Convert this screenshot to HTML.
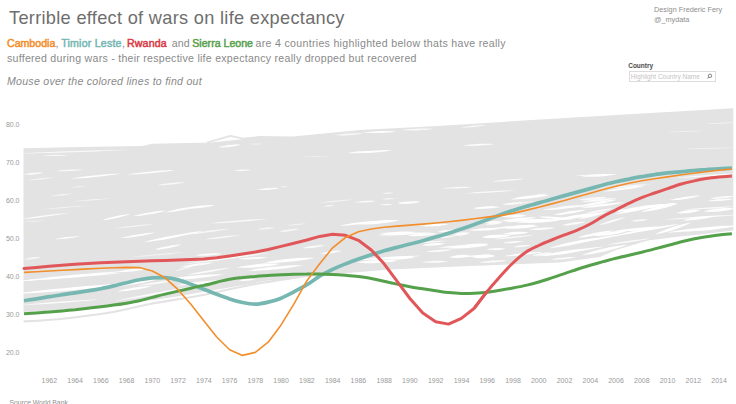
<!DOCTYPE html>
<html><head><meta charset="utf-8">
<style>
html,body{margin:0;padding:0;background:#fff;width:736px;height:404px;overflow:hidden;}
svg{position:absolute;left:0;top:0;}
text{font-family:"Liberation Sans",sans-serif;}
.ax{font-size:7px;fill:#9a9a9a;}
.g{fill:#8a8a8a;}
.nm{stroke-width:0.5px;}
</style></head><body>
<svg width="736" height="404" viewBox="0 0 736 404">
<path d="M23.5,148.2 L80.0,147.0 L142.3,145.9 L152.0,143.8 L200.0,142.7 L211.0,142.4 L242.0,139.3 L260.0,136.1 L292.7,136.4 L360.0,130.0 L433.4,126.3 L482.3,123.2 L540.0,119.5 L642.0,113.4 L733.3,108.2 L733.3,230.5 L700.0,234.5 L680.0,236.5 L648.0,240.5 L616.0,250.0 L600.0,257.0 L560.0,262.5 L470.0,266.0 L390.0,269.5 L330.0,274.5 L290.0,279.0 L250.0,284.0 L200.0,292.5 L180.0,296.0 L150.0,300.5 L100.0,306.0 L60.0,310.0 L23.5,312.0 Z" fill="#e3e3e3"/>
<path d="M17.1,153.5 C45.5,153.3 102.2,151.5 130.5,149.7 C102.1,149.9 45.4,151.7 17.1,153.5Z" fill="#fff" fill-opacity="0.76"/>
<path d="M42.7,155.7 C49.1,156.4 61.9,156.1 68.3,155.2 C61.9,154.5 49.1,154.8 42.7,155.7Z" fill="#fff" fill-opacity="0.66"/>
<path d="M23.5,174.6 C28.6,175.1 38.5,174.2 43.4,172.7 C38.3,172.2 28.4,173.1 23.5,174.6Z" fill="#fff" fill-opacity="0.85"/>
<path d="M57.1,170.9 C64.0,171.6 77.5,171.1 84.3,169.8 C77.4,169.1 63.9,169.6 57.1,170.9Z" fill="#fff" fill-opacity="0.76"/>
<path d="M70.3,178.8 C83.2,178.7 108.7,176.1 121.3,173.6 C108.4,173.7 82.9,176.3 70.3,178.8Z" fill="#fff" fill-opacity="0.90"/>
<path d="M126.7,174.8 C138.9,174.8 163.0,172.5 174.9,170.1 C162.7,170.1 138.6,172.4 126.7,174.8Z" fill="#fff" fill-opacity="0.90"/>
<path d="M28.0,180.2 C34.5,180.3 47.3,179.0 53.6,177.5 C47.1,177.4 34.3,178.7 28.0,180.2Z" fill="#fff" fill-opacity="0.66"/>
<path d="M157.5,185.2 C164.4,185.5 177.8,184.1 184.5,182.4 C177.6,182.1 164.2,183.5 157.5,185.2Z" fill="#fff" fill-opacity="0.76"/>
<path d="M50.2,196.2 C56.0,196.3 67.4,194.9 73.0,193.4 C67.2,193.3 55.8,194.7 50.2,196.2Z" fill="#fff" fill-opacity="0.66"/>
<path d="M70.2,187.6 C74.5,187.8 83.0,186.8 87.2,185.7 C82.9,185.5 74.4,186.5 70.2,187.6Z" fill="#fff" fill-opacity="0.57"/>
<path d="M20.3,219.4 C32.8,218.7 57.6,215.4 69.9,212.7 C57.4,213.4 32.6,216.7 20.3,219.4Z" fill="#fff" fill-opacity="0.85"/>
<path d="M41.2,209.4 C53.3,209.1 77.3,207.2 89.3,205.6 C77.2,205.9 53.2,207.8 41.2,209.4Z" fill="#fff" fill-opacity="0.57"/>
<path d="M73.4,201.2 C82.8,201.2 101.3,199.8 110.6,198.4 C101.2,198.4 82.7,199.8 73.4,201.2Z" fill="#fff" fill-opacity="0.57"/>
<path d="M102.4,220.2 C109.8,220.0 124.0,216.9 130.8,214.1 C123.4,214.3 109.2,217.4 102.4,220.2Z" fill="#fff" fill-opacity="0.95"/>
<path d="M132.7,216.1 C141.4,216.0 158.4,213.1 166.6,210.4 C157.9,210.5 140.9,213.4 132.7,216.1Z" fill="#fff" fill-opacity="0.95"/>
<path d="M164.0,212.5 C173.9,212.0 193.2,208.5 202.7,205.4 C192.8,205.9 173.5,209.4 164.0,212.5Z" fill="#fff" fill-opacity="0.95"/>
<path d="M54.9,239.1 C61.4,239.4 74.2,238.0 80.5,236.3 C74.0,236.0 61.2,237.4 54.9,239.1Z" fill="#fff" fill-opacity="0.76"/>
<path d="M120.3,238.1 C129.3,238.0 147.1,235.1 155.7,232.4 C146.7,232.5 128.9,235.4 120.3,238.1Z" fill="#fff" fill-opacity="0.95"/>
<path d="M143.0,242.2 C158.5,240.7 189.2,235.0 204.2,230.8 C188.7,232.3 158.0,238.0 143.0,242.2Z" fill="#fff" fill-opacity="0.95"/>
<path d="M155.2,249.0 C161.8,248.9 174.5,246.8 180.8,244.7 C174.2,244.8 161.5,246.9 155.2,249.0Z" fill="#fff" fill-opacity="0.76"/>
<path d="M24.9,258.6 C28.9,259.0 36.8,258.3 40.7,257.2 C36.7,256.8 28.8,257.5 24.9,258.6Z" fill="#fff" fill-opacity="0.66"/>
<path d="M115.1,228.2 C125.1,227.9 144.9,225.8 154.7,223.9 C144.7,224.2 124.9,226.3 115.1,228.2Z" fill="#fff" fill-opacity="0.66"/>
<path d="M23.3,221.9 C29.1,222.2 40.4,221.5 46.1,220.5 C40.3,220.2 29.0,220.9 23.3,221.9Z" fill="#fff" fill-opacity="0.57"/>
<path d="M174.6,271.3 C181.7,270.1 195.4,265.9 201.9,262.8 C194.8,264.0 181.1,268.2 174.6,271.3Z" fill="#fff" fill-opacity="0.76"/>
<path d="M219.1,147.1 C224.6,147.4 235.2,146.0 240.4,144.3 C234.9,144.0 224.3,145.4 219.1,147.1Z" fill="#fff" fill-opacity="0.76"/>
<path d="M334.7,135.3 C341.9,135.8 356.1,134.9 363.2,133.4 C356.0,132.9 341.8,133.8 334.7,135.3Z" fill="#fff" fill-opacity="0.76"/>
<path d="M347.3,153.1 C353.5,153.8 365.7,152.9 371.7,151.2 C365.5,150.5 353.3,151.4 347.3,153.1Z" fill="#fff" fill-opacity="0.90"/>
<path d="M300.3,156.7 C308.2,157.3 323.8,157.0 331.6,156.2 C323.7,155.6 308.1,155.9 300.3,156.7Z" fill="#fff" fill-opacity="0.38"/>
<path d="M382.8,193.4 C385.5,194.1 390.8,193.9 393.4,193.0 C390.7,192.3 385.4,192.5 382.8,193.4Z" fill="#fff" fill-opacity="0.76"/>
<path d="M381.6,199.1 C384.9,199.8 391.4,199.4 394.6,198.5 C391.3,197.8 384.8,198.2 381.6,199.1Z" fill="#fff" fill-opacity="0.76"/>
<path d="M379.5,204.8 C382.8,205.6 389.3,205.4 392.5,204.4 C389.2,203.6 382.7,203.8 379.5,204.8Z" fill="#fff" fill-opacity="0.76"/>
<path d="M323.7,206.2 C326.4,206.9 331.7,206.5 334.3,205.6 C331.6,204.9 326.3,205.3 323.7,206.2Z" fill="#fff" fill-opacity="0.76"/>
<path d="M354.5,202.3 C359.9,203.0 370.5,202.3 375.8,201.0 C370.4,200.3 359.8,201.0 354.5,202.3Z" fill="#fff" fill-opacity="0.85"/>
<path d="M280.0,186.9 C282.1,187.5 286.2,187.2 288.3,186.5 C286.2,185.9 282.1,186.2 280.0,186.9Z" fill="#fff" fill-opacity="0.57"/>
<path d="M249.0,144.0 C252.5,144.7 259.5,144.7 263.0,144.0 C259.5,143.3 252.5,143.3 249.0,144.0Z" fill="#fff" fill-opacity="0.57"/>
<path d="M234.0,170.6 C238.3,171.5 246.9,171.2 251.2,170.1 C246.9,169.2 238.3,169.5 234.0,170.6Z" fill="#fff" fill-opacity="0.76"/>
<path d="M256.9,189.8 C262.7,190.5 274.0,189.6 279.6,187.9 C273.8,187.2 262.5,188.1 256.9,189.8Z" fill="#fff" fill-opacity="0.85"/>
<path d="M188.1,208.5 C195.0,209.0 208.5,207.2 215.1,205.0 C208.2,204.5 194.7,206.3 188.1,208.5Z" fill="#fff" fill-opacity="0.95"/>
<path d="M210.6,223.3 C224.8,223.2 253.2,221.1 267.3,219.0 C253.1,219.1 224.7,221.2 210.6,223.3Z" fill="#fff" fill-opacity="0.76"/>
<path d="M187.1,234.4 C197.8,234.0 219.1,231.1 229.6,228.7 C218.9,229.1 197.6,232.0 187.1,234.4Z" fill="#fff" fill-opacity="0.76"/>
<path d="M204.6,239.2 C213.9,239.1 232.3,237.0 241.4,234.9 C232.1,235.0 213.7,237.1 204.6,239.2Z" fill="#fff" fill-opacity="0.76"/>
<path d="M257.3,229.2 C261.7,229.8 270.2,229.1 274.4,227.8 C270.0,227.2 261.5,227.9 257.3,229.2Z" fill="#fff" fill-opacity="0.76"/>
<path d="M279.1,231.8 C284.2,232.1 294.2,230.6 299.0,228.9 C293.9,228.6 283.9,230.1 279.1,231.8Z" fill="#fff" fill-opacity="0.76"/>
<path d="M286.4,225.6 C291.5,225.9 301.5,224.9 306.4,223.6 C301.3,223.3 291.3,224.3 286.4,225.6Z" fill="#fff" fill-opacity="0.57"/>
<path d="M319.6,202.9 C328.3,202.9 345.3,201.2 353.8,199.6 C345.1,199.6 328.1,201.3 319.6,202.9Z" fill="#fff" fill-opacity="0.57"/>
<path d="M339.3,225.8 C347.7,226.0 364.2,223.9 372.3,221.5 C363.9,221.3 347.4,223.4 339.3,225.8Z" fill="#fff" fill-opacity="0.95"/>
<path d="M184.1,264.2 C205.6,262.5 248.1,256.8 269.3,252.8 C247.8,254.5 205.3,260.2 184.1,264.2Z" fill="#fff" fill-opacity="0.85"/>
<path d="M259.9,263.8 C272.8,263.6 298.3,260.7 310.9,258.1 C298.0,258.3 272.5,261.2 259.9,263.8Z" fill="#fff" fill-opacity="0.85"/>
<path d="M187.1,274.9 C197.9,274.3 219.2,270.8 229.6,267.8 C218.8,268.4 197.5,271.9 187.1,274.9Z" fill="#fff" fill-opacity="0.85"/>
<path d="M362.6,132.6 C371.1,133.5 388.1,132.9 396.5,131.4 C388.0,130.5 371.0,131.1 362.6,132.6Z" fill="#fff" fill-opacity="0.90"/>
<path d="M401.8,130.1 C409.7,130.8 425.4,130.2 433.2,128.9 C425.3,128.2 409.6,128.8 401.8,130.1Z" fill="#fff" fill-opacity="0.76"/>
<path d="M460.9,127.8 C467.4,128.1 480.2,126.7 486.5,125.0 C480.0,124.7 467.2,126.1 460.9,127.8Z" fill="#fff" fill-opacity="0.76"/>
<path d="M357.7,153.0 C366.3,153.5 383.2,152.1 391.6,150.2 C383.0,149.7 366.1,151.1 357.7,153.0Z" fill="#fff" fill-opacity="0.90"/>
<path d="M463.1,145.6 C470.9,146.4 486.4,145.7 494.1,144.1 C486.3,143.3 470.8,144.0 463.1,145.6Z" fill="#fff" fill-opacity="0.90"/>
<path d="M492.3,181.6 C500.5,181.9 516.8,180.5 524.8,178.8 C516.6,178.5 500.3,179.9 492.3,181.6Z" fill="#fff" fill-opacity="0.76"/>
<path d="M441.1,188.4 C448.9,189.0 464.4,188.3 472.1,186.9 C464.3,186.3 448.8,187.0 441.1,188.4Z" fill="#fff" fill-opacity="0.76"/>
<path d="M464.1,193.4 C476.9,193.7 502.4,192.2 515.1,190.5 C502.3,190.2 476.8,191.7 464.1,193.4Z" fill="#fff" fill-opacity="0.76"/>
<path d="M514.6,198.2 C521.6,198.7 535.2,197.3 541.9,195.4 C534.9,194.9 521.3,196.3 514.6,198.2Z" fill="#fff" fill-opacity="0.90"/>
<path d="M357.1,223.2 C367.8,223.8 389.1,222.4 399.6,220.4 C388.9,219.8 367.6,221.2 357.1,223.2Z" fill="#fff" fill-opacity="0.95"/>
<path d="M397.4,202.8 C403.2,203.5 414.6,202.9 420.3,201.6 C414.5,200.9 403.1,201.5 397.4,202.8Z" fill="#fff" fill-opacity="0.76"/>
<path d="M473.0,208.4 C480.2,209.0 494.3,208.4 501.4,207.0 C494.2,206.4 480.1,207.0 473.0,208.4Z" fill="#fff" fill-opacity="0.76"/>
<path d="M504.0,222.0 C513.8,222.6 533.1,221.2 542.7,219.1 C532.9,218.5 513.6,219.9 504.0,222.0Z" fill="#fff" fill-opacity="0.95"/>
<path d="M409.1,225.6 C417.6,226.2 434.6,225.5 443.0,224.1 C434.5,223.5 417.5,224.2 409.1,225.6Z" fill="#fff" fill-opacity="0.76"/>
<path d="M378.3,235.4 C391.8,236.0 418.8,234.6 432.2,232.6 C418.7,232.0 391.7,233.4 378.3,235.4Z" fill="#fff" fill-opacity="0.95"/>
<path d="M485.2,229.3 C492.4,229.6 506.6,228.2 513.6,226.5 C506.4,226.2 492.2,227.6 485.2,229.3Z" fill="#fff" fill-opacity="0.76"/>
<path d="M437.4,247.7 C449.5,248.3 473.6,246.9 485.6,244.8 C473.5,244.2 449.4,245.6 437.4,247.7Z" fill="#fff" fill-opacity="0.95"/>
<path d="M355.5,260.0 C371.9,260.3 404.5,258.1 420.7,255.7 C404.3,255.4 371.7,257.6 355.5,260.0Z" fill="#fff" fill-opacity="0.95"/>
<path d="M455.3,257.5 C464.6,257.8 483.0,256.3 492.1,254.6 C482.8,254.3 464.4,255.8 455.3,257.5Z" fill="#fff" fill-opacity="0.85"/>
<path d="M494.3,239.2 C504.3,239.1 524.1,237.0 533.9,234.9 C523.9,235.0 504.1,237.1 494.3,239.2Z" fill="#fff" fill-opacity="0.76"/>
<path d="M504.0,256.3 C513.8,256.6 533.2,254.5 542.7,252.1 C532.9,251.8 513.5,253.9 504.0,256.3Z" fill="#fff" fill-opacity="0.95"/>
<path d="M431.8,237.8 C437.6,238.4 448.9,237.8 454.6,236.4 C448.8,235.8 437.5,236.4 431.8,237.8Z" fill="#fff" fill-opacity="0.76"/>
<path d="M707.1,123.9 C714.1,124.2 728.0,123.4 734.9,122.3 C727.9,122.0 714.0,122.8 707.1,123.9Z" fill="#fff" fill-opacity="0.57"/>
<path d="M664.1,132.1 C674.7,132.4 695.9,131.7 706.4,130.7 C695.8,130.4 674.6,131.1 664.1,132.1Z" fill="#fff" fill-opacity="0.57"/>
<path d="M683.0,149.1 C696.4,149.4 723.3,148.6 736.7,147.5 C723.3,147.2 696.4,148.0 683.0,149.1Z" fill="#fff" fill-opacity="0.57"/>
<path d="M574.7,175.7 C585.3,176.3 606.4,175.5 616.9,174.1 C606.3,173.5 585.2,174.3 574.7,175.7Z" fill="#fff" fill-opacity="0.76"/>
<path d="M528.7,196.8 C533.7,197.0 543.4,195.4 548.1,193.6 C543.1,193.4 533.4,195.0 528.7,196.8Z" fill="#fff" fill-opacity="0.76"/>
<path d="M599.2,188.7 C612.3,188.5 638.2,186.1 651.1,183.9 C638.0,184.1 612.1,186.5 599.2,188.7Z" fill="#fff" fill-opacity="0.76"/>
<path d="M555.8,219.5 C564.1,219.6 580.3,217.2 588.2,214.7 C579.9,214.6 563.7,217.0 555.8,219.5Z" fill="#fff" fill-opacity="0.95"/>
<path d="M639.3,208.3 C649.2,208.4 668.6,206.0 678.2,203.5 C668.3,203.4 648.9,205.8 639.3,208.3Z" fill="#fff" fill-opacity="0.95"/>
<path d="M683.0,209.6 C696.5,209.8 723.3,208.2 736.7,206.4 C723.2,206.2 696.4,207.8 683.0,209.6Z" fill="#fff" fill-opacity="0.76"/>
<path d="M527.3,222.2 C537.2,222.7 556.7,221.1 566.3,219.0 C556.4,218.5 536.9,220.1 527.3,222.2Z" fill="#fff" fill-opacity="0.95"/>
<path d="M558.9,245.2 C576.2,243.7 610.3,238.0 627.1,233.8 C609.8,235.3 575.7,241.0 558.9,245.2Z" fill="#fff" fill-opacity="0.95"/>
<path d="M624.2,233.9 C638.2,232.7 665.8,227.9 679.3,224.1 C665.3,225.3 637.7,230.1 624.2,233.9Z" fill="#fff" fill-opacity="0.95"/>
<path d="M665.0,219.5 C683.3,219.3 719.8,216.9 738.0,214.7 C719.7,214.9 683.2,217.3 665.0,219.5Z" fill="#fff" fill-opacity="0.76"/>
<path d="M536.5,256.3 C553.7,255.2 587.8,250.3 604.7,246.5 C587.5,247.6 553.4,252.5 536.5,256.3Z" fill="#fff" fill-opacity="0.95"/>
<path d="M605.3,244.8 C616.8,244.2 639.4,241.0 650.6,238.4 C639.1,239.0 616.5,242.2 605.3,244.8Z" fill="#fff" fill-opacity="0.85"/>
<path d="M695.2,230.7 C705.5,230.8 725.8,228.4 735.8,225.9 C725.5,225.8 705.2,228.2 695.2,230.7Z" fill="#fff" fill-opacity="0.95"/>
<path d="M16.5,281.1 C43.8,280.1 98.2,275.9 125.3,272.7 C98.0,273.7 43.6,277.9 16.5,281.1Z" fill="#fff" fill-opacity="0.90"/>
<path d="M16.9,293.6 C42.8,292.2 94.4,287.2 120.1,283.6 C94.2,285.0 42.6,290.0 16.9,293.6Z" fill="#fff" fill-opacity="0.90"/>
<path d="M18.4,305.4 C38.6,304.9 78.9,302.0 99.0,299.6 C78.8,300.1 38.5,303.0 18.4,305.4Z" fill="#fff" fill-opacity="0.85"/>
<path d="M218.9,147.4 C224.4,147.8 235.3,146.5 240.6,144.9 C235.1,144.5 224.2,145.8 218.9,147.4Z" fill="#fff" fill-opacity="0.76"/>
<path d="M16.9,281.3 C44.7,280.2 100.1,275.0 127.6,271.0 C99.8,272.1 44.4,277.3 16.9,281.3Z" fill="#fff" fill-opacity="0.95"/>
<path d="M16.9,293.9 C44.7,293.1 100.1,288.3 127.6,284.3 C99.8,285.1 44.4,289.9 16.9,293.9Z" fill="#fff" fill-opacity="0.95"/>
<path d="M23.2,260.0 C28.0,260.1 37.5,258.8 42.1,257.3 C37.3,257.2 27.8,258.5 23.2,260.0Z" fill="#fff" fill-opacity="0.57"/>
<path d="M55.5,239.2 C61.3,239.3 72.5,238.0 78.1,236.5 C72.3,236.4 61.1,237.7 55.5,239.2Z" fill="#fff" fill-opacity="0.57"/>
<path d="M118.0,271.9 C125.5,272.7 140.2,270.9 147.3,268.5 C139.8,267.7 125.1,269.5 118.0,271.9Z" fill="#fff" fill-opacity="0.95"/>
<path d="M155.3,249.8 C162.0,249.8 175.0,247.2 181.2,244.5 C174.5,244.5 161.5,247.1 155.3,249.8Z" fill="#fff" fill-opacity="0.85"/>
<path d="M147.3,241.6 C156.2,241.4 173.4,238.4 181.8,235.6 C172.9,235.8 155.7,238.8 147.3,241.6Z" fill="#fff" fill-opacity="0.85"/>
<path d="M131.1,257.2 C145.0,256.7 172.5,254.0 186.2,251.9 C172.3,252.4 144.8,255.1 131.1,257.2Z" fill="#fff" fill-opacity="0.57"/>
<path d="M180.0,266.8 C188.8,267.0 206.0,264.8 214.5,262.4 C205.7,262.2 188.5,264.4 180.0,266.8Z" fill="#fff" fill-opacity="0.85"/>
<path d="M117.0,286.3 C128.1,286.0 149.6,282.1 160.1,278.6 C149.0,278.9 127.5,282.8 117.0,286.3Z" fill="#fff" fill-opacity="0.95"/>
<path d="M160.2,280.2 C176.4,280.7 208.6,277.7 224.4,274.2 C208.2,273.7 176.0,276.7 160.2,280.2Z" fill="#fff" fill-opacity="0.95"/>
<path d="M176.2,285.4 C188.1,285.7 211.6,283.1 223.2,280.2 C211.3,279.9 187.8,282.5 176.2,285.4Z" fill="#fff" fill-opacity="0.95"/>
<path d="M117.6,291.4 C126.5,291.6 143.7,289.0 152.1,286.1 C143.2,285.9 126.0,288.5 117.6,291.4Z" fill="#fff" fill-opacity="0.95"/>
<path d="M195.5,255.4 C202.2,256.3 215.3,255.4 221.8,253.7 C215.1,252.8 202.0,253.7 195.5,255.4Z" fill="#fff" fill-opacity="0.85"/>
<path d="M238.0,259.1 C245.4,260.0 260.1,259.1 267.3,257.4 C259.9,256.5 245.2,257.4 238.0,259.1Z" fill="#fff" fill-opacity="0.85"/>
<path d="M237.0,267.4 C248.0,268.6 269.5,266.8 280.1,264.0 C269.1,262.8 247.6,264.6 237.0,267.4Z" fill="#fff" fill-opacity="0.95"/>
<path d="M248.1,270.6 C262.1,271.2 289.6,268.6 303.2,265.3 C289.2,264.7 261.7,267.3 248.1,270.6Z" fill="#fff" fill-opacity="0.95"/>
<path d="M266.4,262.3 C278.6,263.2 302.7,261.1 314.6,258.0 C302.4,257.1 278.3,259.2 266.4,262.3Z" fill="#fff" fill-opacity="0.95"/>
<path d="M238.8,280.7 C243.3,281.6 251.9,280.7 256.1,279.0 C251.6,278.1 243.0,279.0 238.8,280.7Z" fill="#fff" fill-opacity="0.95"/>
<path d="M253.1,283.7 C259.8,284.5 272.6,282.8 278.9,280.4 C272.2,279.6 259.4,281.3 253.1,283.7Z" fill="#fff" fill-opacity="0.95"/>
<path d="M302.4,248.1 C308.1,248.8 319.3,247.5 324.7,245.5 C319.0,244.8 307.8,246.1 302.4,248.1Z" fill="#fff" fill-opacity="0.85"/>
<path d="M320.2,254.0 C325.8,254.5 336.4,252.8 341.5,250.7 C335.9,250.2 325.3,251.9 320.2,254.0Z" fill="#fff" fill-opacity="0.85"/>
<path d="M357.2,224.3 C367.7,225.3 388.3,223.2 398.4,220.2 C387.9,219.2 367.3,221.3 357.2,224.3Z" fill="#fff" fill-opacity="0.95"/>
<path d="M378.8,234.0 C388.2,235.3 406.9,234.2 416.1,232.0 C406.7,230.7 388.0,231.8 378.8,234.0Z" fill="#fff" fill-opacity="0.95"/>
<path d="M384.6,258.9 C392.5,260.4 408.0,259.4 415.6,256.9 C407.7,255.4 392.2,256.4 384.6,258.9Z" fill="#fff" fill-opacity="0.95"/>
<path d="M357.2,262.5 C367.6,264.0 388.2,263.0 398.4,260.5 C388.0,259.0 367.4,260.0 357.2,262.5Z" fill="#fff" fill-opacity="0.95"/>
<path d="M408.0,235.7 C415.3,236.8 429.8,235.9 436.9,233.8 C429.6,232.7 415.1,233.6 408.0,235.7Z" fill="#fff" fill-opacity="0.95"/>
<path d="M401.3,243.9 C413.3,244.1 437.1,242.6 448.9,240.8 C436.9,240.6 413.1,242.1 401.3,243.9Z" fill="#fff" fill-opacity="0.76"/>
<path d="M397.6,203.7 C403.4,204.6 414.8,203.7 420.4,202.0 C414.6,201.1 403.2,202.0 397.6,203.7Z" fill="#fff" fill-opacity="0.85"/>
<path d="M425.9,251.8 C432.5,252.7 445.4,251.6 451.8,249.8 C445.2,248.9 432.3,250.0 425.9,251.8Z" fill="#fff" fill-opacity="0.85"/>
<path d="M474.3,207.9 C480.4,208.9 492.5,208.4 498.5,206.8 C492.4,205.8 480.3,206.3 474.3,207.9Z" fill="#fff" fill-opacity="0.85"/>
<path d="M502.0,216.6 C508.2,218.3 520.2,217.8 526.2,215.5 C520.0,213.8 508.0,214.3 502.0,216.6Z" fill="#fff" fill-opacity="0.95"/>
<path d="M522.5,221.8 C530.0,223.3 544.8,222.3 552.0,219.8 C544.5,218.3 529.7,219.3 522.5,221.8Z" fill="#fff" fill-opacity="0.95"/>
<path d="M499.2,227.8 C509.4,229.3 529.5,228.4 539.5,225.9 C529.3,224.4 509.2,225.3 499.2,227.8Z" fill="#fff" fill-opacity="0.95"/>
<path d="M454.1,233.9 C458.2,234.9 466.2,234.4 470.1,232.8 C466.0,231.8 458.0,232.3 454.1,233.9Z" fill="#fff" fill-opacity="0.85"/>
<path d="M482.8,237.4 C489.9,238.9 504.0,237.9 510.8,235.4 C503.7,233.9 489.6,234.9 482.8,237.4Z" fill="#fff" fill-opacity="0.95"/>
<path d="M454.5,247.0 C463.3,248.2 480.4,246.7 488.8,244.0 C480.0,242.8 462.9,244.3 454.5,247.0Z" fill="#fff" fill-opacity="0.95"/>
<path d="M512.9,246.9 C517.5,247.8 526.5,247.0 530.9,245.3 C526.3,244.4 517.3,245.2 512.9,246.9Z" fill="#fff" fill-opacity="0.85"/>
<path d="M448.9,257.3 C453.0,258.3 461.1,257.8 465.0,256.2 C460.9,255.2 452.8,255.7 448.9,257.3Z" fill="#fff" fill-opacity="0.85"/>
<path d="M472.8,257.3 C478.4,258.9 489.5,258.1 494.8,255.7 C489.2,254.1 478.1,254.9 472.8,257.3Z" fill="#fff" fill-opacity="0.95"/>
<path d="M479.3,262.5 C486.4,263.4 500.5,262.4 507.4,260.6 C500.3,259.7 486.2,260.7 479.3,262.5Z" fill="#fff" fill-opacity="0.85"/>
<path d="M531.9,255.7 C536.9,256.3 546.7,254.8 551.3,252.7 C546.3,252.1 536.5,253.6 531.9,255.7Z" fill="#fff" fill-opacity="0.85"/>
<path d="M514.5,203.6 C519.6,203.9 529.6,202.9 534.6,201.6 C529.5,201.3 519.5,202.3 514.5,203.6Z" fill="#fff" fill-opacity="0.57"/>
<path d="M483.3,222.6 C488.4,223.7 498.4,223.2 503.4,221.6 C498.3,220.5 488.3,221.0 483.3,222.6Z" fill="#fff" fill-opacity="0.85"/>
<path d="M542.6,210.0 C551.4,210.5 568.6,208.8 577.1,206.6 C568.3,206.1 551.1,207.8 542.6,210.0Z" fill="#fff" fill-opacity="0.85"/>
<path d="M553.9,220.2 C565.1,220.6 586.9,217.1 597.5,213.3 C586.3,212.9 564.5,216.4 553.9,220.2Z" fill="#fff" fill-opacity="0.95"/>
<path d="M607.5,212.1 C617.7,212.3 637.9,210.0 647.8,207.5 C637.6,207.3 617.4,209.6 607.5,212.1Z" fill="#fff" fill-opacity="0.85"/>
<path d="M549.4,248.1 C562.5,247.5 587.7,242.3 600.0,237.8 C586.9,238.4 561.7,243.6 549.4,248.1Z" fill="#fff" fill-opacity="0.95"/>
<path d="M594.3,235.8 C602.6,236.7 618.7,234.4 626.4,231.3 C618.1,230.4 602.0,232.7 594.3,235.8Z" fill="#fff" fill-opacity="0.95"/>
<path d="M541.8,255.8 C553.6,256.0 576.6,252.6 587.8,248.9 C576.0,248.7 553.0,252.1 541.8,255.8Z" fill="#fff" fill-opacity="0.95"/>
<path d="M581.4,255.1 C593.4,254.5 616.3,249.2 627.4,244.7 C615.4,245.3 592.5,250.6 581.4,255.1Z" fill="#fff" fill-opacity="0.95"/>
<path d="M618.2,235.0 C625.7,234.9 640.1,232.0 647.0,229.2 C639.5,229.3 625.1,232.2 618.2,235.0Z" fill="#fff" fill-opacity="0.85"/>
<path d="M598.5,225.3 C605.8,224.5 619.6,220.4 626.1,217.1 C618.8,217.9 605.0,222.0 598.5,225.3Z" fill="#fff" fill-opacity="0.85"/>
<path d="M551.2,259.5 C557.6,260.2 570.2,259.0 576.4,257.1 C570.0,256.4 557.4,257.6 551.2,259.5Z" fill="#fff" fill-opacity="0.85"/>
<path d="M641.0,211.8 C650.5,211.7 668.6,207.7 677.2,203.7 C667.7,203.8 649.6,207.8 641.0,211.8Z" fill="#fff" fill-opacity="0.95"/>
<path d="M676.4,213.1 C682.7,214.3 694.8,212.8 700.6,210.1 C694.3,208.9 682.2,210.4 676.4,213.1Z" fill="#fff" fill-opacity="0.95"/>
<path d="M703.8,211.4 C711.6,212.6 726.6,211.1 734.0,208.4 C726.2,207.2 711.2,208.7 703.8,211.4Z" fill="#fff" fill-opacity="0.95"/>
<path d="M669.5,200.1 C675.7,200.7 687.8,199.2 693.7,197.1 C687.5,196.5 675.4,198.0 669.5,200.1Z" fill="#fff" fill-opacity="0.85"/>
<path d="M707.5,200.9 C714.1,201.8 727.3,200.8 733.7,199.0 C727.1,198.1 713.9,199.1 707.5,200.9Z" fill="#fff" fill-opacity="0.85"/>
<path d="M682.8,220.2 C691.1,221.1 707.2,219.1 715.0,216.1 C706.7,215.2 690.6,217.2 682.8,220.2Z" fill="#fff" fill-opacity="0.95"/>
<path d="M654.8,234.5 C664.5,233.4 682.6,227.4 691.0,222.5 C681.3,223.6 663.2,229.6 654.8,234.5Z" fill="#fff" fill-opacity="0.95"/>
<path d="M666.3,232.5 C684.1,232.7 719.4,229.2 736.8,225.4 C719.0,225.2 683.7,228.7 666.3,232.5Z" fill="#fff" fill-opacity="0.95"/>
<path d="M474.6,208.8 C479.8,209.4 490.1,208.5 495.2,207.1 C490.0,206.5 479.7,207.4 474.6,208.8Z" fill="#fff" fill-opacity="0.76"/>
<path d="M422.2,225.9 C428.8,227.1 441.7,226.2 448.1,224.2 C441.5,223.0 428.6,223.9 422.2,225.9Z" fill="#fff" fill-opacity="0.95"/>
<path d="M437.6,231.8 C442.1,232.7 450.7,231.8 454.9,230.1 C450.4,229.2 441.8,230.1 437.6,231.8Z" fill="#fff" fill-opacity="0.85"/>
<path d="M450.9,235.5 C455.7,236.4 465.2,235.5 469.8,233.8 C465.0,232.9 455.5,233.8 450.9,235.5Z" fill="#fff" fill-opacity="0.85"/>
<path d="M481.8,237.0 C487.8,238.2 499.8,237.3 505.6,235.3 C499.6,234.1 487.6,235.0 481.8,237.0Z" fill="#fff" fill-opacity="0.95"/>
<path d="M469.4,230.3 C477.2,231.5 492.7,230.6 500.3,228.6 C492.5,227.4 477.0,228.3 469.4,230.3Z" fill="#fff" fill-opacity="0.95"/>
<path d="M422.5,245.2 C428.2,246.4 439.4,245.5 444.8,243.5 C439.1,242.3 427.9,243.2 422.5,245.2Z" fill="#fff" fill-opacity="0.95"/>
<path d="M447.9,248.2 C458.3,249.0 479.0,247.3 489.1,244.9 C478.7,244.1 458.0,245.8 447.9,248.2Z" fill="#fff" fill-opacity="0.95"/>
<path d="M450.9,257.1 C455.8,258.3 465.2,257.4 469.8,255.4 C464.9,254.2 455.5,255.1 450.9,257.1Z" fill="#fff" fill-opacity="0.95"/>
<path d="M471.3,257.1 C477.4,258.4 489.5,258.0 495.5,256.1 C489.4,254.8 477.3,255.2 471.3,257.1Z" fill="#fff" fill-opacity="0.95"/>
<path d="M486.5,249.6 C491.3,250.7 500.7,250.3 505.3,248.7 C500.5,247.6 491.1,248.0 486.5,249.6Z" fill="#fff" fill-opacity="0.85"/>
<path d="M485.1,224.4 C489.6,225.3 498.2,224.4 502.4,222.7 C497.9,221.8 489.3,222.7 485.1,224.4Z" fill="#fff" fill-opacity="0.85"/>
<path d="M422.2,262.2 C428.7,263.3 441.7,262.9 448.1,261.3 C441.6,260.2 428.6,260.6 422.2,262.2Z" fill="#fff" fill-opacity="0.85"/>
<path d="M510.2,199.4 C520.2,199.9 540.0,197.8 549.7,195.1 C539.7,194.6 519.9,196.7 510.2,199.4Z" fill="#fff" fill-opacity="0.95"/>
<path d="M502.6,204.4 C507.8,205.3 518.2,204.4 523.2,202.7 C518.0,201.8 507.6,202.7 502.6,204.4Z" fill="#fff" fill-opacity="0.85"/>
<path d="M558.5,207.4 C565.4,208.3 579.1,207.4 585.9,205.7 C579.0,204.8 565.3,205.7 558.5,207.4Z" fill="#fff" fill-opacity="0.85"/>
<path d="M501.6,220.8 C510.4,221.6 527.6,219.9 536.1,217.5 C527.3,216.7 510.1,218.4 501.6,220.8Z" fill="#fff" fill-opacity="0.95"/>
<path d="M538.7,216.7 C547.2,219.0 564.4,220.2 573.2,219.3 C564.7,217.0 547.5,215.8 538.7,216.7Z" fill="#fff" fill-opacity="0.95"/>
<path d="M506.5,228.2 C514.0,229.0 528.6,227.3 535.7,224.9 C528.2,224.1 513.6,225.8 506.5,228.2Z" fill="#fff" fill-opacity="0.95"/>
<path d="M515.8,222.2 C526.7,223.4 548.3,222.5 559.0,220.5 C548.1,219.3 526.5,220.2 515.8,222.2Z" fill="#fff" fill-opacity="0.95"/>
<path d="M553.8,215.1 C562.1,215.3 578.4,212.7 586.2,209.8 C577.9,209.6 561.6,212.2 553.8,215.1Z" fill="#fff" fill-opacity="0.95"/>
<path d="M502.2,234.1 C508.8,235.3 521.7,234.4 528.1,232.4 C521.5,231.2 508.6,232.1 502.2,234.1Z" fill="#fff" fill-opacity="0.95"/>
<path d="M528.9,229.6 C535.5,230.5 548.4,229.6 554.8,227.9 C548.2,227.0 535.3,227.9 528.9,229.6Z" fill="#fff" fill-opacity="0.85"/>
<path d="M561.8,225.3 C567.9,225.8 579.9,224.0 585.6,221.9 C579.5,221.4 567.5,223.2 561.8,225.3Z" fill="#fff" fill-opacity="0.85"/>
<path d="M502.6,243.0 C507.8,243.9 518.2,243.0 523.2,241.3 C518.0,240.4 507.6,241.3 502.6,243.0Z" fill="#fff" fill-opacity="0.85"/>
<path d="M581.6,176.5 C590.3,177.4 607.6,176.3 616.1,174.2 C607.4,173.3 590.1,174.4 581.6,176.5Z" fill="#fff" fill-opacity="0.95"/>
<path d="M603.3,191.6 C614.3,191.6 635.8,188.5 646.4,185.6 C635.4,185.6 613.9,188.7 603.3,191.6Z" fill="#fff" fill-opacity="0.95"/>
<path d="M581.6,201.8 C590.4,202.3 607.6,200.6 616.1,198.4 C607.3,197.9 590.1,199.6 581.6,201.8Z" fill="#fff" fill-opacity="0.85"/>
<path d="M581.0,207.9 C592.0,208.1 613.5,205.5 624.1,202.6 C613.1,202.4 591.6,205.0 581.0,207.9Z" fill="#fff" fill-opacity="0.95"/>
<path d="M625.7,209.4 C636.2,209.6 656.7,207.0 666.8,204.1 C656.3,203.9 635.8,206.5 625.7,209.4Z" fill="#fff" fill-opacity="0.95"/>
<path d="M585.1,213.8 C592.2,213.8 606.0,211.2 612.6,208.6 C605.5,208.6 591.7,211.2 585.1,213.8Z" fill="#fff" fill-opacity="0.85"/>
<path d="M577.2,206.6 C587.6,206.4 607.7,202.8 617.5,199.4 C607.1,199.6 587.0,203.2 577.2,206.6Z" fill="#fff" fill-opacity="0.95"/>
<path d="M578.0,219.0 C585.6,218.8 600.0,215.2 606.8,211.8 C599.2,212.0 584.8,215.6 578.0,219.0Z" fill="#fff" fill-opacity="0.95"/>
<path d="M613.8,214.2 C626.5,213.4 651.4,208.4 663.4,204.2 C650.7,205.0 625.8,210.0 613.8,214.2Z" fill="#fff" fill-opacity="0.95"/>
<path d="M630.8,221.1 C635.2,222.1 643.9,221.3 648.1,219.6 C643.7,218.6 635.0,219.4 630.8,221.1Z" fill="#fff" fill-opacity="0.85"/>
<path d="M577.5,237.5 C586.8,237.3 604.8,233.8 613.5,230.4 C604.2,230.6 586.2,234.1 577.5,237.5Z" fill="#fff" fill-opacity="0.95"/>
<path d="M613.8,231.2 C626.3,231.7 651.1,229.6 663.4,226.9 C650.9,226.4 626.1,228.5 613.8,231.2Z" fill="#fff" fill-opacity="0.95"/>
<path d="M578.0,200.1 C585.3,200.7 599.7,199.3 606.8,197.2 C599.5,196.6 585.1,198.0 578.0,200.1Z" fill="#fff" fill-opacity="0.85"/>
<path d="M654.5,207.3 C660.2,207.8 671.0,205.6 676.1,203.0 C670.4,202.5 659.6,204.7 654.5,207.3Z" fill="#fff" fill-opacity="0.95"/>
<path d="M672.6,199.9 C680.0,200.1 694.3,198.0 701.3,195.6 C693.9,195.4 679.6,197.5 672.6,199.9Z" fill="#fff" fill-opacity="0.85"/>
<path d="M710.0,198.6 C716.3,199.3 728.5,198.2 734.5,196.3 C728.2,195.6 716.0,196.7 710.0,198.6Z" fill="#fff" fill-opacity="0.85"/>
<path d="M675.8,177.9 C691.2,177.7 721.9,175.5 737.2,173.5 C721.8,173.7 691.1,175.9 675.8,177.9Z" fill="#fff" fill-opacity="0.85"/>
<path d="M638.6,230.6 C643.9,230.9 653.9,228.8 658.7,226.5 C653.4,226.2 643.4,228.3 638.6,230.6Z" fill="#fff" fill-opacity="0.85"/>
<path d="M115.9,300.6 C138.2,298.0 182.3,290.1 204.1,284.9 C181.8,287.5 137.7,295.4 115.9,300.6Z" fill="#fff" fill-opacity="0.85"/>
<path d="M137.4,285.9 C146.9,285.7 165.4,283.1 174.6,280.6 C165.1,280.8 146.6,283.4 137.4,285.9Z" fill="#fff" fill-opacity="0.85"/>
<path d="M207,142.6 L230.5,135.9 L243,138.7 L262,136.6" fill="none" stroke="#e3e3e3" stroke-width="1.7" stroke-linejoin="round"/>
<path d="M23.5,321.5 C29.6,321.1 45.6,320.5 60.0,319.0 C74.4,317.5 95.0,315.0 110.0,312.5 C125.0,310.0 135.0,306.8 150.0,304.0 C165.0,301.2 183.3,298.7 200.0,295.5 C216.7,292.3 233.3,288.1 250.0,285.0 C266.7,281.9 291.7,278.3 300.0,277.0" fill="none" stroke="#e3e3e3" stroke-width="2.2"/>
<path d="M24.0,300.7 C26.1,300.4 32.2,299.4 36.4,298.8 C40.6,298.1 45.0,297.4 49.3,296.7 C53.6,296.1 57.8,295.4 62.1,294.7 C66.4,294.0 70.7,293.4 75.0,292.8 C79.3,292.1 83.6,291.5 87.9,290.8 C92.2,290.2 96.5,289.5 100.8,288.7 C105.1,287.9 109.4,286.9 113.7,285.9 C118.0,284.9 122.2,283.8 126.5,282.7 C130.8,281.7 135.1,280.6 139.4,279.8 C143.7,279.0 148.0,278.3 152.3,277.9 C156.6,277.6 160.9,277.4 165.2,277.7 C169.5,278.0 173.8,278.8 178.1,279.9 C182.4,281.0 186.6,282.6 190.9,284.2 C195.2,285.7 199.5,287.5 203.8,289.2 C208.1,290.8 212.4,292.7 216.7,294.3 C221.0,295.9 225.3,297.5 229.6,298.9 C233.9,300.3 238.2,301.6 242.5,302.5 C246.8,303.4 251.0,304.3 255.3,304.2 C259.6,304.1 263.9,303.1 268.2,302.1 C272.5,301.1 276.8,300.0 281.1,298.2 C285.4,296.5 289.7,294.0 294.0,291.8 C298.3,289.5 302.6,287.3 306.9,284.7 C311.2,282.1 315.4,278.7 319.7,276.1 C324.0,273.6 328.3,271.5 332.6,269.4 C336.9,267.4 341.2,265.6 345.5,263.9 C349.8,262.2 354.1,260.6 358.4,259.0 C362.7,257.5 367.0,256.0 371.3,254.7 C375.6,253.3 379.8,252.1 384.1,250.8 C388.4,249.6 392.7,248.5 397.0,247.4 C401.3,246.2 405.6,245.1 409.9,244.0 C414.2,242.9 418.5,241.9 422.8,240.7 C427.1,239.6 431.4,238.4 435.7,237.1 C440.0,235.9 444.2,234.6 448.5,233.2 C452.8,231.8 457.1,230.4 461.4,228.9 C465.7,227.5 470.0,226.0 474.3,224.4 C478.6,222.9 482.9,221.3 487.2,219.7 C491.5,218.1 495.8,216.4 500.1,214.9 C504.4,213.4 508.6,211.9 512.9,210.6 C517.2,209.2 521.5,207.9 525.8,206.6 C530.1,205.3 534.4,204.1 538.7,202.9 C543.0,201.6 547.3,200.4 551.6,199.2 C555.9,198.0 560.2,196.8 564.5,195.6 C568.8,194.4 573.0,193.3 577.3,192.1 C581.6,190.9 585.9,189.8 590.2,188.6 C594.5,187.4 598.8,186.1 603.1,185.0 C607.4,183.8 611.7,182.8 616.0,181.8 C620.3,180.8 624.6,179.9 628.9,179.1 C633.2,178.2 637.4,177.4 641.7,176.7 C646.0,175.9 650.3,175.2 654.6,174.6 C658.9,173.9 663.2,173.4 667.5,172.9 C671.8,172.5 676.1,172.2 680.4,171.8 C684.7,171.5 689.0,171.1 693.3,170.7 C697.6,170.3 701.8,170.0 706.1,169.7 C710.4,169.3 714.7,169.1 719.0,168.8 C723.3,168.5 729.8,168.2 731.9,168.1" fill="none" stroke="#76b7b2" stroke-width="3.7" stroke-linejoin="round"/>
<path d="M24.0,313.7 C26.1,313.6 32.2,313.2 36.4,312.9 C40.6,312.6 45.0,312.3 49.3,312.0 C53.6,311.6 57.8,311.3 62.1,310.9 C66.4,310.5 70.7,310.1 75.0,309.7 C79.3,309.2 83.6,308.7 87.9,308.2 C92.2,307.8 96.5,307.2 100.8,306.7 C105.1,306.2 109.4,305.6 113.7,305.1 C118.0,304.5 122.2,303.9 126.5,303.2 C130.8,302.5 135.1,301.8 139.4,300.8 C143.7,299.8 148.0,298.6 152.3,297.4 C156.6,296.3 160.9,295.1 165.2,294.1 C169.5,293.0 173.8,292.0 178.1,291.1 C182.4,290.1 186.6,289.1 190.9,288.2 C195.2,287.2 199.5,286.3 203.8,285.4 C208.1,284.4 212.4,283.3 216.7,282.2 C221.0,281.2 225.3,280.0 229.6,279.2 C233.9,278.5 238.2,278.0 242.5,277.6 C246.8,277.1 251.0,276.8 255.3,276.4 C259.6,276.1 263.9,275.8 268.2,275.5 C272.5,275.2 276.8,275.0 281.1,274.8 C285.4,274.6 289.7,274.4 294.0,274.3 C298.3,274.2 302.6,274.1 306.9,274.1 C311.2,274.0 315.4,274.0 319.7,274.0 C324.0,274.1 328.3,274.3 332.6,274.5 C336.9,274.7 341.2,275.0 345.5,275.3 C349.8,275.7 354.1,276.1 358.4,276.6 C362.7,277.2 367.0,277.8 371.3,278.5 C375.6,279.3 379.8,280.3 384.1,281.3 C388.4,282.2 392.7,283.2 397.0,284.1 C401.3,285.0 405.6,286.0 409.9,286.8 C414.2,287.6 418.5,288.2 422.8,288.8 C427.1,289.5 431.4,290.1 435.7,290.8 C440.0,291.4 444.2,292.2 448.5,292.6 C452.8,293.0 457.1,293.3 461.4,293.4 C465.7,293.5 470.0,293.4 474.3,293.2 C478.6,293.0 482.9,292.8 487.2,292.3 C491.5,291.8 495.8,290.9 500.1,290.2 C504.4,289.5 508.6,288.8 512.9,288.0 C517.2,287.2 521.5,286.4 525.8,285.4 C530.1,284.4 534.4,283.3 538.7,282.0 C543.0,280.8 547.3,279.3 551.6,277.9 C555.9,276.5 560.2,275.1 564.5,273.6 C568.8,272.2 573.0,270.7 577.3,269.3 C581.6,267.9 585.9,266.6 590.2,265.3 C594.5,264.1 598.8,262.8 603.1,261.6 C607.4,260.5 611.7,259.3 616.0,258.3 C620.3,257.2 624.6,256.2 628.9,255.2 C633.2,254.2 637.4,253.3 641.7,252.3 C646.0,251.2 650.3,250.1 654.6,248.9 C658.9,247.8 663.2,246.6 667.5,245.5 C671.8,244.3 676.1,243.1 680.4,242.0 C684.7,240.9 689.0,239.9 693.3,239.0 C697.6,238.1 701.8,237.5 706.1,236.8 C710.4,236.1 714.7,235.5 719.0,234.9 C723.3,234.4 729.8,233.9 731.9,233.7" fill="none" stroke="#55a04b" stroke-width="3" stroke-linejoin="round"/>
<path d="M24.0,268.4 L36.4,267.4 L49.3,266.3 L62.1,265.3 L75.0,264.3 L87.9,263.5 L100.8,262.8 L113.7,262.2 L126.5,261.7 L139.4,261.3 L152.3,260.8 L165.2,260.4 L178.1,260.0 L190.9,259.5 L203.8,259.0 L216.7,257.8 L229.6,255.9 L242.5,254.0 L255.3,252.0 L268.2,249.5 L281.1,246.4 L294.0,243.2 L306.9,240.0 L319.7,236.4 L332.6,234.3 L345.5,235.3 L358.4,240.3 L371.3,250.0 L384.1,263.8 L397.0,281.2 L409.9,298.5 L422.8,313.1 L435.7,321.7 L448.5,324.1 L461.4,318.4 L474.3,308.2 L487.2,291.4" fill="none" stroke="#e15759" stroke-width="3" stroke-linejoin="round" stroke-linecap="round"/>
<path d="M474.3,308.2 C476.4,305.4 482.9,296.7 487.2,291.4 C491.5,286.1 495.8,281.2 500.1,276.4 C504.4,271.7 508.6,267.0 512.9,263.0 C517.2,258.9 521.5,255.1 525.8,252.2 C530.1,249.3 534.4,247.5 538.7,245.5 C543.0,243.4 547.3,241.7 551.6,240.0 C555.9,238.2 560.2,236.5 564.5,234.9 C568.8,233.2 573.0,231.9 577.3,230.1 C581.6,228.3 585.9,226.3 590.2,224.0 C594.5,221.7 598.8,218.7 603.1,216.4 C607.4,214.0 611.7,212.0 616.0,209.8 C620.3,207.6 624.6,205.3 628.9,203.3 C633.2,201.3 637.4,199.4 641.7,197.7 C646.0,195.9 650.3,194.5 654.6,193.0 C658.9,191.5 663.2,190.1 667.5,188.6 C671.8,187.1 676.1,185.5 680.4,184.2 C684.7,183.0 689.0,182.0 693.3,181.1 C697.6,180.1 701.8,179.2 706.1,178.5 C710.4,177.8 714.7,177.4 719.0,177.0 C723.3,176.6 729.8,176.1 731.9,176.0" fill="none" stroke="#e15759" stroke-width="3" stroke-linejoin="round"/>
<path d="M24.0,272.4 L36.4,271.7 L49.3,271.0 L62.1,270.3 L75.0,269.6 L87.9,268.9 L100.8,268.3 L113.7,267.8 L126.5,267.4 L139.4,267.6 L152.3,271.0 L165.2,277.8 L178.1,289.7 L190.9,304.3 L203.8,320.8 L216.7,337.0 L229.6,349.7 L242.5,355.4 L255.3,352.4 L268.2,342.2 L281.1,324.9 L294.0,303.9 L306.9,280.7 L319.7,263.8 L332.6,247.8 L345.5,237.5 L358.4,231.7 L371.3,229.0 L384.1,227.3 L397.0,226.1 L409.9,225.1 L422.8,224.1 L435.7,223.0 L448.5,221.8 L461.4,220.4 L474.3,218.8 L487.2,217.1 L500.1,215.6 L512.9,213.4 L525.8,210.4 L538.7,207.2 L551.6,203.9 L564.5,200.4 L577.3,196.8 L590.2,193.2 L603.1,189.5 L616.0,186.2 L628.9,183.3 L641.7,180.8 L654.6,178.8 L667.5,176.9 L680.4,175.0 L693.3,173.3 L706.1,171.7 L719.0,170.3 L731.9,169.0" fill="none" stroke="#f28e2b" stroke-width="1.6" stroke-linejoin="round"/>
<text x="19.5" y="127.1" text-anchor="end" class="ax">80.0</text>
<text x="19.5" y="165.1" text-anchor="end" class="ax">70.0</text>
<text x="19.5" y="203.1" text-anchor="end" class="ax">60.0</text>
<text x="19.5" y="241.1" text-anchor="end" class="ax">50.0</text>
<text x="19.5" y="279.1" text-anchor="end" class="ax">40.0</text>
<text x="19.5" y="317.1" text-anchor="end" class="ax">30.0</text>
<text x="19.5" y="355.1" text-anchor="end" class="ax">20.0</text>
<text x="49.3" y="383" text-anchor="middle" class="ax">1962</text>
<text x="75.1" y="383" text-anchor="middle" class="ax">1964</text>
<text x="100.8" y="383" text-anchor="middle" class="ax">1966</text>
<text x="126.6" y="383" text-anchor="middle" class="ax">1968</text>
<text x="152.3" y="383" text-anchor="middle" class="ax">1970</text>
<text x="178.1" y="383" text-anchor="middle" class="ax">1972</text>
<text x="203.9" y="383" text-anchor="middle" class="ax">1974</text>
<text x="229.6" y="383" text-anchor="middle" class="ax">1976</text>
<text x="255.4" y="383" text-anchor="middle" class="ax">1978</text>
<text x="281.1" y="383" text-anchor="middle" class="ax">1980</text>
<text x="306.9" y="383" text-anchor="middle" class="ax">1982</text>
<text x="332.7" y="383" text-anchor="middle" class="ax">1984</text>
<text x="358.4" y="383" text-anchor="middle" class="ax">1986</text>
<text x="384.2" y="383" text-anchor="middle" class="ax">1988</text>
<text x="409.9" y="383" text-anchor="middle" class="ax">1990</text>
<text x="435.7" y="383" text-anchor="middle" class="ax">1992</text>
<text x="461.5" y="383" text-anchor="middle" class="ax">1994</text>
<text x="487.2" y="383" text-anchor="middle" class="ax">1996</text>
<text x="513.0" y="383" text-anchor="middle" class="ax">1998</text>
<text x="538.7" y="383" text-anchor="middle" class="ax">2000</text>
<text x="564.5" y="383" text-anchor="middle" class="ax">2002</text>
<text x="590.3" y="383" text-anchor="middle" class="ax">2004</text>
<text x="616.0" y="383" text-anchor="middle" class="ax">2006</text>
<text x="641.8" y="383" text-anchor="middle" class="ax">2008</text>
<text x="667.5" y="383" text-anchor="middle" class="ax">2010</text>
<text x="693.3" y="383" text-anchor="middle" class="ax">2012</text>
<text x="719.1" y="383" text-anchor="middle" class="ax">2014</text>
<text x="9" y="24" font-size="18.2" letter-spacing="0.3" fill="#6e6e6e">Terrible effect of wars on life expectancy</text>
<text x="7" y="47.2" font-size="10.6" fill="#f28e2b" stroke="#f28e2b" class="nm">Cambodia</text>
<text x="55.5" y="47.2" font-size="10.6" class="g">,</text>
<text x="61.2" y="47.2" font-size="10.6" letter-spacing="0.22" fill="#76b7b2" stroke="#76b7b2" class="nm">Timior Leste</text>
<text x="122" y="47.2" font-size="10.6" class="g">,</text>
<text x="127" y="47.2" font-size="10.6" letter-spacing="0.15" fill="#d93a45" stroke="#d93a45" class="nm">Rwanda</text>
<text x="171.7" y="47.2" font-size="10.6" letter-spacing="0.2" class="g">and</text>
<text x="192.3" y="47.2" font-size="10.6" fill="#59a14f" stroke="#59a14f" class="nm">Sierra Leone</text>
<text x="255.6" y="47.2" font-size="10.6" letter-spacing="0.3" class="g">are 4 countries highlighted below thats have really</text>
<text x="7" y="61.6" font-size="10.6" letter-spacing="0.26" class="g">suffered during wars - their respective life expectancy really dropped but recovered</text>
<text x="7" y="85.3" font-size="10.6" letter-spacing="0.25" font-style="italic" class="g">Mouse over the colored lines to find out</text>
<text x="654" y="12" font-size="7.3" fill="#8e8e8e">Design Frederic Fery</text>
<text x="654" y="21.9" font-size="7.3" fill="#8e8e8e">@_mydata</text>
<text x="628.2" y="67.8" font-size="6.5" font-weight="bold" fill="#4a4a4a">Country</text>
<rect x="629.5" y="71.5" width="86" height="10" fill="#fff" stroke="#dcdcdc" stroke-width="1"/>
<text x="630.8" y="78.9" font-size="6.5" fill="#c4c4c4">Highlight Country Name</text>
<circle cx="710" cy="75.8" r="1.7" fill="none" stroke="#666" stroke-width="0.8"/>
<line x1="708.8" y1="77" x2="707.3" y2="78.5" stroke="#666" stroke-width="0.9"/>
<text x="9.4" y="405.2" font-size="6.8" fill="#8e8e8e">Source World Bank</text>
</svg>
</body></html>
